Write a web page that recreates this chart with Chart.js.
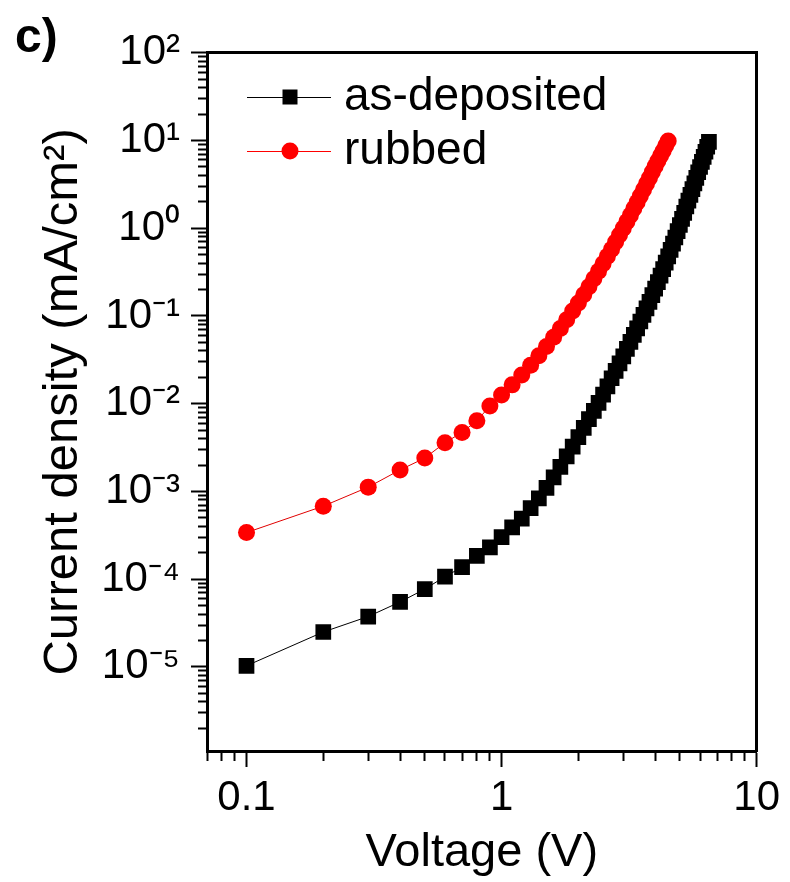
<!DOCTYPE html>
<html>
<head>
<meta charset="utf-8">
<title>J-V</title>
<script src="https://cdn.jsdelivr.net/npm/chart.js@4.4.1/dist/chart.umd.min.js"></script>
<style>
  html, body { margin: 0; padding: 0; background: #fff; }
  canvas { display: block; }
</style>
</head>
<body>
<canvas id="jv" width="790" height="882"></canvas>
<script>
// 電圧 (V) と電流密度 (mA/cm^2)
const voltsDeposited = [
  0.1, 0.2, 0.3, 0.4, 0.5, 0.6, 0.7, 0.8, 0.9, 1.0,
  1.1, 1.2, 1.3, 1.4, 1.5, 1.6, 1.7, 1.8, 1.9, 2.0,
  2.1, 2.2, 2.3, 2.4, 2.5, 2.6, 2.7, 2.8, 2.9, 3.0,
  3.1, 3.2, 3.3, 3.4, 3.5, 3.6, 3.7, 3.8, 3.9, 4.0,
  4.1, 4.2, 4.3, 4.4, 4.5, 4.6, 4.7, 4.8, 4.9, 5.0,
  5.1, 5.2, 5.3, 5.4, 5.5, 5.6, 5.7, 5.8, 5.9, 6.0,
  6.1, 6.2, 6.3, 6.4, 6.5
];
const currentDeposited = [
  1.03e-5, 2.5e-5, 3.75e-5, 5.5e-5, 7.7e-5, 1.07e-4, 1.37e-4, 1.84e-4, 2.3e-4, 3.02e-4,
  3.89e-4, 4.9e-4, 6.46e-4, 8.32e-4, 1.1e-3, 1.45e-3, 1.91e-3, 2.51e-3, 3.24e-3, 4.17e-3,
  5.3e-3, 6.66e-3, 8.28e-3, 1.02e-2, 1.27e-2, 1.58e-2, 1.95e-2, 2.37e-2, 2.88e-2, 3.47e-2,
  4.22e-2, 5.07e-2, 6.1e-2, 7.24e-2, 8.65e-2, 0.103, 0.122, 0.145, 0.173, 0.205,
  0.243, 0.288, 0.342, 0.405, 0.478, 0.566, 0.667, 0.785, 0.927, 1.09,
  1.28, 1.5, 1.77, 2.06, 2.4, 2.8, 3.25, 3.76, 4.35, 4.99,
  5.7, 6.52, 7.45, 8.49, 9.66
];

const voltsRubbed = [
  0.1, 0.2, 0.3, 0.4, 0.5, 0.6, 0.7, 0.8, 0.9, 1.0,
  1.1, 1.2, 1.3, 1.4, 1.5, 1.6, 1.7, 1.8, 1.9, 2.0,
  2.1, 2.2, 2.3, 2.4, 2.5, 2.6, 2.7, 2.8, 2.9, 3.0,
  3.1, 3.2, 3.3, 3.4, 3.5, 3.6, 3.7, 3.8, 3.9, 4.0,
  4.1, 4.2, 4.3, 4.4, 4.5
];
const currentRubbed = [
  3.4e-4, 6.8e-4, 1.12e-3, 1.76e-3, 2.4e-3, 3.6e-3, 4.7e-3, 6.4e-3, 9.4e-3, 1.26e-2,
  1.64e-2, 2.12e-2, 2.74e-2, 3.52e-2, 4.5e-2, 5.71e-2, 7.22e-2, 9.08e-2, 0.114, 0.141,
  0.175, 0.216, 0.265, 0.324, 0.394, 0.479, 0.578, 0.697, 0.836, 1.0,
  1.19, 1.41, 1.68, 1.98, 2.33, 2.74, 3.21, 3.75, 4.38, 5.09,
  5.85, 6.7, 7.6, 8.7, 9.9
];

// 軸の目盛り
const xMajorTicks = [0.1, 1, 10];
const yMajorTicks = [1e-5, 1e-4, 1e-3, 1e-2, 1e-1, 1, 10, 100];
const minorSteps = [2, 3, 4, 5, 6, 7, 8, 9];
const seriesNames = ["as-deposited", "rubbed"];

const SUP = { "-": "\u207B", "0": "\u2070", "1": "\u00B9", "2": "\u00B2", "3": "\u00B3",
  "4": "\u2074", "5": "\u2075", "6": "\u2076", "7": "\u2077", "8": "\u2078", "9": "\u2079" };

function isMajor(v, majors) {
  return majors.some((m) => Math.abs(v / m - 1) < 1e-6);
}

// 対数軸の目盛り (主: majors, 副: 2..9 倍)
function buildLogTicks(lo, hi, majors) {
  const out = [];
  const e0 = Math.floor(Math.log10(lo));
  const e1 = Math.ceil(Math.log10(hi));
  for (let e = e0; e <= e1; e++) {
    const base = Math.pow(10, e);
    [1].concat(minorSteps).forEach((m) => {
      const v = +(m * base).toPrecision(6);
      if (v >= lo * 0.9999 && v <= hi * 1.0001) {
        out.push({ value: v, major: isMajor(v, majors) });
      }
    });
  }
  return out;
}

function expLabel(v) {
  const e = String(Math.round(Math.log10(v)));
  return "10" + e.split("").map((c) => SUP[c]).join("");
}

// 凡例アイコン (線 + マーカー)
function legendIcon(color, shape) {
  const c = document.createElement("canvas");
  c.width = 126;
  c.height = 24;
  const g = c.getContext("2d");
  g.strokeStyle = color;
  g.lineWidth = 1;
  g.beginPath();
  g.moveTo(42, 12.5);
  g.lineTo(126, 12.5);
  g.stroke();
  g.fillStyle = color;
  if (shape === "rect") {
    g.fillRect(85 - 7.5, 12 - 7.5, 15, 15);
  } else {
    g.beginPath();
    g.arc(85, 12, 8.5, 0, Math.PI * 2);
    g.fill();
  }
  return c;
}
const icons = [legendIcon("#000", "rect"), legendIcon("#ff0000", "circle")];

// 主目盛りは長く、副目盛りは短く (破線で切る)
function tickDash(majors, inward) {
  return (ctx) => {
    const t = ctx.tick;
    if (!t || isMajor(t.value, majors)) return [];
    return inward ? [0, 7, 10, 100] : [8, 100];
  };
}

const FONT = "'Liberation Sans', Arial, Helvetica, sans-serif";
Chart.defaults.font.family = FONT;
Chart.defaults.color = "#000";

const frameAxis = (position) => ({
  type: "logarithmic",
  position: position,
  min: position === "top" ? 0.07 : 1.1e-6,
  max: position === "top" ? 10 : 100,
  grid: { display: false },
  ticks: { display: false },
  border: { display: true, color: "#000", width: 3 },
  afterFit: (scale) => {
    if (position === "top") scale.height = 0;
    else scale.width = 0;
  },
});

new Chart(document.getElementById("jv"), {
  type: "scatter",
  data: {
    datasets: [
      {
        label: seriesNames[0],
        data: voltsDeposited.map((v, i) => ({ x: v, y: currentDeposited[i] })),
        showLine: true,
        borderColor: "#000",
        borderWidth: 1,
        backgroundColor: "#000",
        pointStyle: "rect",
        pointRadius: 11.1,
        pointBorderWidth: 0,
        pointHoverRadius: 11.1,
      },
      {
        label: seriesNames[1],
        data: voltsRubbed.map((v, i) => ({ x: v, y: currentRubbed[i] })),
        showLine: true,
        borderColor: "#e00000",
        borderWidth: 1,
        backgroundColor: "#ff0000",
        pointStyle: "circle",
        pointRadius: 8.5,
        pointBorderWidth: 0,
        pointHoverRadius: 8.5,
      },
    ],
  },
  options: {
    responsive: false,
    animation: false,
    devicePixelRatio: 1,
    layout: { padding: { left: 15, right: 30, top: 0, bottom: 0 } },
    scales: {
      x: {
        type: "logarithmic",
        position: "bottom",
        min: 0.07,
        max: 10,
        afterBuildTicks: (scale) => {
          scale.ticks = buildLogTicks(0.07, 10, xMajorTicks);
        },
        afterFit: (scale) => {
          scale.height = 131;
        },
        ticks: {
          autoSkip: false,
          maxRotation: 0,
          padding: 10,
          font: { size: 42, lineHeight: 1 },
          color: "#000",
          callback: (v) => (isMajor(v, xMajorTicks) ? String(v) : ""),
        },
        grid: {
          display: true,
          drawOnChartArea: false,
          drawTicks: true,
          tickLength: 16,
          tickWidth: 2,
          tickColor: "#000",
          tickBorderDash: tickDash(xMajorTicks, false),
        },
        border: { display: true, color: "#000", width: 3 },
        title: {
          display: true,
          text: "Voltage (V)",
          font: { size: 47, lineHeight: 1 },
          color: "#000",
          padding: { top: 0, bottom: 5 },
        },
      },
      y: {
        type: "logarithmic",
        position: "left",
        min: 1.1e-6,
        max: 100,
        afterBuildTicks: (scale) => {
          scale.ticks = buildLogTicks(1.1e-6, 100, yMajorTicks);
        },
        afterFit: (scale) => {
          scale.width = 192;
        },
        ticks: {
          autoSkip: false,
          padding: 11,
          font: { size: 42, lineHeight: 1 },
          color: "#000",
          callback: (v) => (isMajor(v, yMajorTicks) ? expLabel(v) : ""),
        },
        grid: {
          display: true,
          drawOnChartArea: false,
          drawTicks: true,
          tickLength: 16,
          tickWidth: 2,
          tickColor: "#000",
          tickBorderDash: tickDash(yMajorTicks, true),
        },
        border: { display: true, color: "#000", width: 3 },
        title: {
          display: true,
          text: "Current density (mA/cm\u00B2)",
          font: { size: 49, lineHeight: 1 },
          color: "#000",
          padding: { top: 24, bottom: 0 },
        },
      },
      xTop: frameAxis("top"),
      yRight: frameAxis("right"),
    },
    plugins: {
      title: {
        display: true,
        text: "c)",
        align: "start",
        color: "#000",
        font: { size: 48, weight: "bold", lineHeight: 0.6 },
        padding: { top: 24, bottom: 0 },
      },
      legend: {
        position: "chartArea",
        align: "start",
        title: { display: true, text: "", font: { size: 1, lineHeight: 1 }, padding: { top: 0, bottom: 65 } },
        labels: {
          usePointStyle: true,
          pointStyleWidth: 106,
          padding: 8,
          color: "#000",
          font: { size: 46 },
          generateLabels: (chart) => {
            const items = Chart.defaults.plugins.legend.labels.generateLabels(chart);
            items.forEach((it, i) => {
              it.pointStyle = icons[i];
              it.fontColor = "#000";
            });
            return items;
          },
        },
      },
      tooltip: { enabled: false },
    },
  },
});
</script>
</body>
</html>
